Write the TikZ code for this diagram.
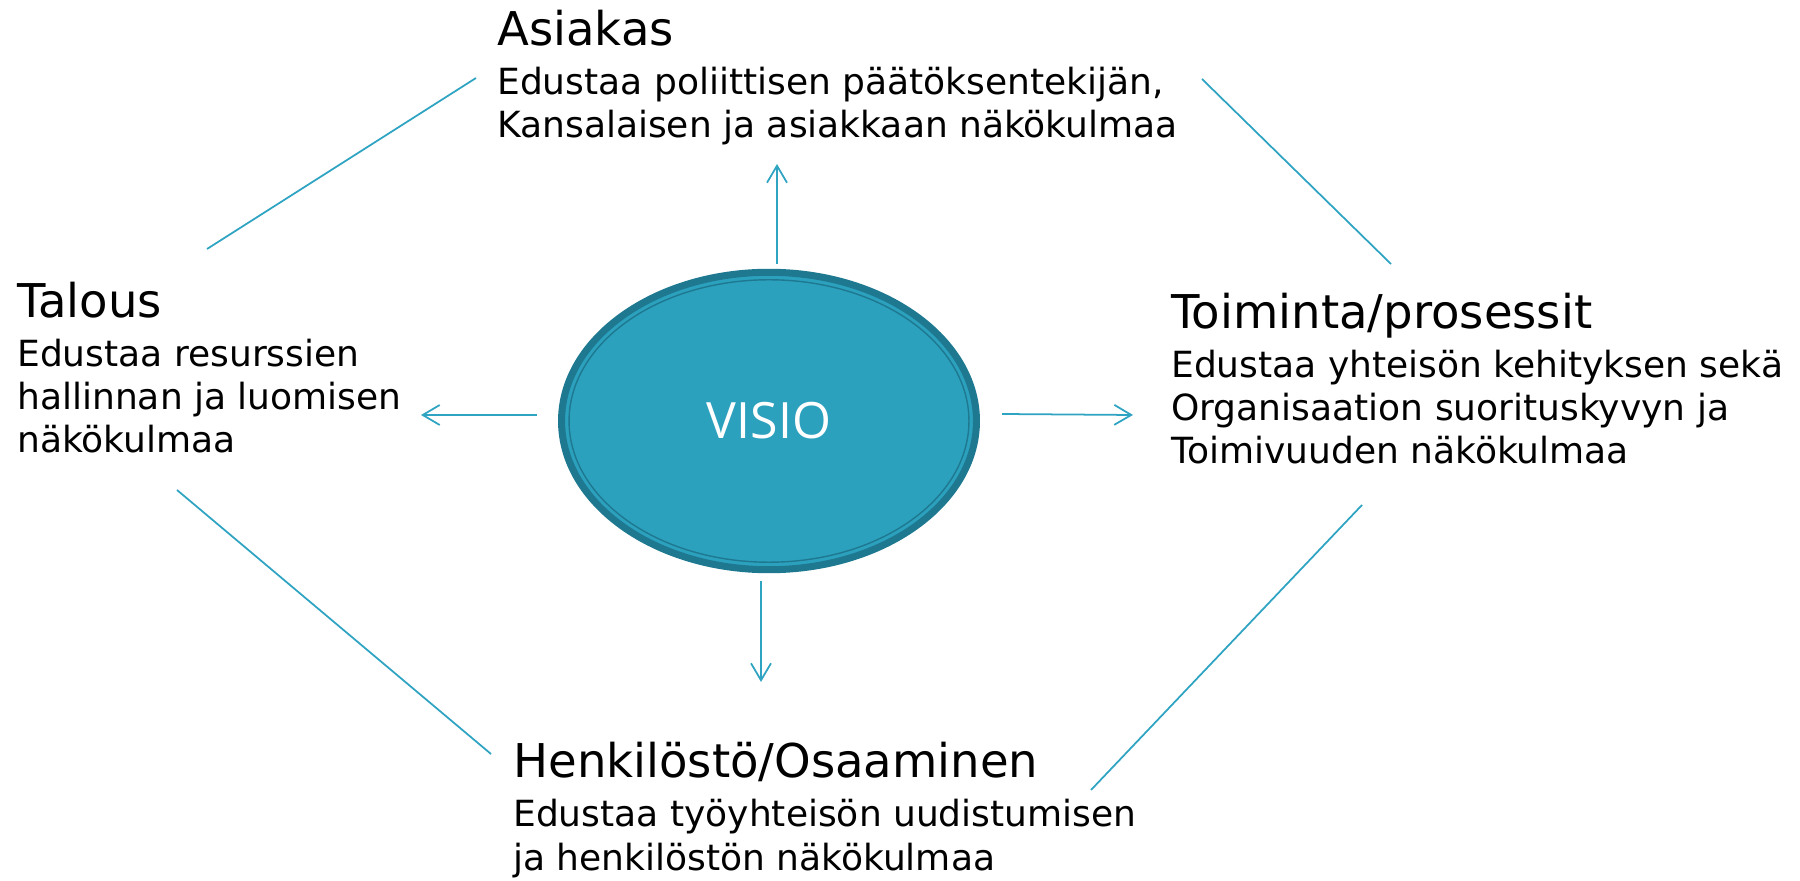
\documentclass[tikz,border=0pt]{standalone}
\usepackage{fontspec}
\setmainfont{DejaVu Sans}
\newfontfamily\visiofont{Open Sans}
\usetikzlibrary{arrows.meta}
\usetikzlibrary{shapes}
\definecolor{viiva}{HTML}{2FA3C2}
\definecolor{pallo}{HTML}{2CA1BE}
\definecolor{reuna}{HTML}{1E7990}
\tikzset{
  otsikko/.style={anchor=base west, inner sep=0pt, font=\fontsize{26.5}{30}\selectfont},
  teksti/.style={anchor=base west, inner sep=0pt, align=left, font=\fontsize{20.5}{24.5}\selectfont},
  yhdys/.style={draw=viiva, line width=1pt},
  nuoli/.style={yhdys, -{Straight Barb[length=3.4mm,width=4mm]}},
}
% #4 = number of text lines (the base of the text node is its last line)
\newcommand{\nakokulma}[6]{ \node[otsikko] (#1) at ( #2 , #3 ){#5}; \node[teksti] (#1txt) at ( #2 , #3 + 49 + 43 * #4 - 43 ){#6};}

\begin{document}
\begin{tikzpicture}[x=0.02cm, y=-0.02cm]
        \useasboundingbox (0,0) rectangle (1800,881);

        % centre
        \node[ellipse, fill=pallo, draw=reuna, line width=4pt, minimum width=8.3cm, minimum height=5.95cm] (visio) at (769,421){};
        \node[ellipse, draw=reuna, line width=0.8pt, minimum width=8.0cm, minimum height=5.65cm] (visioin) at (769,421){};
        \node[text=white, font=\visiofont\fontsize{28.5}{34}\selectfont] (visiotxt) at (visio){VISIO};

        % texts
        \nakokulma{asiakas}{497}{46}{2}{Asiakas}{Edustaa poliittisen päätöksentekijän,\\Kansalaisen ja asiakkaan näkökulmaa}
        \nakokulma{talous}{17}{318}{3}{Talous}{Edustaa resurssien\\hallinnan ja luomisen\\näkökulmaa}
        \nakokulma{toiminta}{1171}{329}{3}{Toiminta/prosessit}{Edustaa yhteisön kehityksen sekä\\Organisaation suorituskyvyn ja\\Toimivuuden näkökulmaa}
        \nakokulma{henkilosto}{513}{778}{2}{Henkilöstö/Osaaminen}{Edustaa työyhteisön uudistumisen\\ja henkilöstön näkökulmaa}

        % arrow ends
        \coordinate (ylos1) at (777,264);
        \coordinate (ylos2) at (777,164);
        \coordinate (vasen1) at (537,415);
        \coordinate (vasen2) at (421,415);
        \coordinate (oikea1) at (1002,414);
        \coordinate (oikea2) at (1133,415);
        \coordinate (alas1) at (761,581);
        \coordinate (alas2) at (761,682);
        \draw[nuoli] (ylos1) -- (ylos2);
        \draw[nuoli] (vasen1) -- (vasen2);
        \draw[nuoli] (oikea1) -- (oikea2);
        \draw[nuoli] (alas1) -- (alas2);

        % lines
        \coordinate (tv1) at (207,249);
        \coordinate (tv2) at (476,78);
        \coordinate (to1) at (1202,79);
        \coordinate (to2) at (1391,264);
        \coordinate (av1) at (177,490);
        \coordinate (av2) at (491,754);
        \coordinate (ao1) at (1362,505);
        \coordinate (ao2) at (1091,790);
        \draw[yhdys] (tv1) -- (tv2);
        \draw[yhdys] (to1) -- (to2);
        \draw[yhdys] (av1) -- (av2);
        \draw[yhdys] (ao1) -- (ao2);
\end{tikzpicture}
\end{document}
